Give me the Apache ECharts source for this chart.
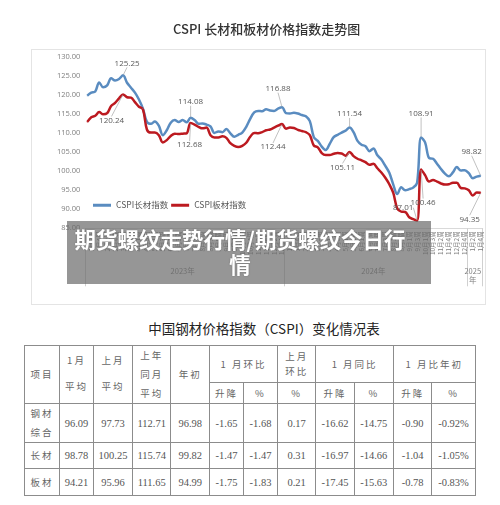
<!DOCTYPE html>
<html><head><meta charset="utf-8">
<script src="https://cdn.jsdelivr.net/npm/echarts@6/dist/echarts.min.js"></script>
<style>
html,body{margin:0;padding:0;background:#fff;}
#wrap{position:relative;width:500px;height:505px;overflow:hidden;font-family:"Noto Sans CJK SC",sans-serif;}
#frame{position:absolute;left:31px;top:49px;width:453px;height:254px;border:1px solid #e4e4e4;}
#chart{position:absolute;left:0;top:0;width:500px;height:310px;}
#banner{position:absolute;left:67px;top:221px;width:364px;height:63px;background:rgba(105,105,105,0.7);}
#banner div{position:absolute;left:5px;top:5px;width:336px;text-align:center;color:#fff;font-weight:700;font-size:21.5px;line-height:25px;text-shadow:0 0 2px rgba(0,0,0,0.25);}
#ttitle{position:absolute;left:0;top:318px;width:528px;text-align:center;font-size:13.5px;color:#222;}
#tbl{position:absolute;left:24px;top:345px;border-collapse:collapse;table-layout:fixed;}
#tbl td{border:1px solid #8c8c8c;padding:0;text-align:center;vertical-align:middle;color:#666;font-size:9.5px;letter-spacing:2px;line-height:19px;}
#tbl td.n{font-family:"Liberation Serif",serif;font-size:10.5px;letter-spacing:0;color:#555;}
</style></head>
<body><div id="wrap">
<div id="frame"></div>
<div id="chart"></div>
<div id="banner"><div>期货螺纹走势行情/期货螺纹今日行情</div></div>
<div id="ttitle">中国钢材价格指数（CSPI）变化情况表</div>
<table id="tbl"></table>
</div>
<script>
// ---- data ----
const years = ['2023', '2024', '2025'];
const weeksPerMonth2023 = [4,4,5,4,4,4,4,5,4,4,4,4];
const weeksPerMonth2024 = [4,3,4,4,4,4,4,4,4,3,4,4];
const weeksPerMonth2025 = [4];
const seriesNames = ['CSPI长材指数', 'CSPI板材指数'];
const changcai = [119.9,120.7,121.0,123.4,122.1,122.6,124.5,123.9,124.3,125.25,
123.3,122.0,120.7,118.9,116.5,113.0,112.5,113.1,112.0,109.5,
110.8,112.8,113.5,113.0,113.5,112.9,114.08,113.5,112.5,112.6,
112.3,111.8,110.1,110.5,110.3,111.1,110.0,109.1,109.6,110.2,
111.7,113.8,115.5,115.9,115.8,116.3,116.0,115.9,116.5,116.88,
115.3,115.2,115.4,115.2,114.8,114.5,113.2,109.0,108.0,106.5,
105.6,107.2,109.0,109.6,110.2,110.7,111.54,110.3,108.0,107.0,
106.6,105.3,106.0,104.2,103.1,101.4,99.6,96.5,94.0,95.8,
95.0,95.3,95.7,97.0,108.91,107.6,103.5,103.3,102.0,100.6,
99.4,98.7,99.7,101.1,100.2,100.3,99.5,98.2,98.6,98.82];
const bancai = [113.0,114.2,114.6,115.6,115.0,115.3,117.2,118.0,119.2,120.24,
119.5,119.4,118.2,117.0,116.3,111.0,110.2,110.2,109.5,107.6,
108.2,109.3,109.9,109.8,109.9,110.0,112.68,112.3,111.7,111.3,
111.5,109.5,108.9,108.9,109.2,108.8,107.4,106.7,106.4,106.7,
107.5,109.1,110.1,110.0,110.3,110.8,111.0,111.5,112.0,112.44,
111.2,111.5,111.4,110.9,110.6,110.3,109.5,106.8,106.3,104.8,
104.3,104.3,104.6,104.8,104.7,104.1,105.11,104.0,103.3,102.9,
102.4,101.7,102.0,100.8,99.7,98.3,96.6,94.3,90.2,89.4,
89.3,87.9,87.4,87.01,100.46,99.0,97.3,97.7,97.3,96.8,
96.5,96.6,97.0,97.0,95.6,95.5,95.0,93.6,94.4,94.35];
const yTicks = [85, 130, 5];

const tableTitle = '中国钢材价格指数（CSPI）变化情况表';
const rowNames = ['钢材<br>综合', '长材', '板材'];
const rowSteel = ['96.09','97.73','112.71','96.98','-1.65','-1.68','0.17','-16.62','-14.75','-0.90','-0.92%'];
const rowLong  = ['98.78','100.25','115.74','99.82','-1.47','-1.47','0.31','-16.97','-14.66','-1.04','-1.05%'];
const rowPlate = ['94.21','95.96','111.65','94.99','-1.75','-1.83','0.21','-17.45','-15.63','-0.78','-0.83%'];

// ---- categories ----
const categories = [], yearOfPoint = [];
[[years[0], weeksPerMonth2023],[years[1], weeksPerMonth2024],[years[2], weeksPerMonth2025]].forEach(([y, wpm]) => {
  wpm.forEach((n, m) => { for (let w = 1; w <= n; w++) { categories.push((m+1) + '月' + w + '周'); yearOfPoint.push(y + '年'); } });
});
const yearStart = yearOfPoint.map((y,i)=> i===0 || y!==yearOfPoint[i-1]);
const yearMid = {};
years.forEach(y => { const idx = yearOfPoint.map((v,i)=>v===y+'年'?i:-1).filter(i=>i>=0); yearMid[Math.floor((idx[0]+idx[idx.length-1])/2)] = true; });

// label offsets (style)
const blueOff = {9:[4,-12], 26:[0,-16], 49:[-4,-18.5], 66:[0,-13.5], 84:[0,-24], 99:[-9,-24]};
const redOff = {9:[-11.5,26], 26:[-1,22], 49:[-9,23], 66:[-7,15.5], 83:[-14,-13], 84:[2,33], 99:[-11,26.5]};
function mk(vals, offs){ return vals.map((v,i)=> offs[i] ? {value:v, label:{show:true}, labelLine:{show:true}} : v); }

const labelStyle = {show:false, position:'inside', fontSize:8, color:'#595959', fontFamily:'Open Sans'};
function lineSeries(name, vals, offs, color){
  return {name, type:'line', data: mk(vals, offs), smooth:0.35, showSymbol:true, showAllSymbol:true,
    symbol:'circle', symbolSize:1, lineStyle:{width:2.5,color}, itemStyle:{color},
    label: labelStyle, labelLine:{show:false, lineStyle:{color:'#a6a6a6', width:0.7}},
    labelLayout: p => { const o = offs[p.dataIndex]; return o ? {dx:o[0], dy:o[1]} : {}; },
    emphasis:{disabled:true}};
}

const chart = echarts.init(document.getElementById('chart'));
chart.setOption({
  animation:false,
  title:{text:'CSPI 长材和板材价格指数走势图', left:168, top:18, textStyle:{fontSize:13, fontWeight:500, color:'#333', fontFamily:'Noto Sans CJK SC'}},
  legend:{left:88, top:196, icon:'rect', itemWidth:18, itemHeight:3, itemGap:3, data:seriesNames,
    textStyle:{fontSize:8.5, color:'#595959', fontFamily:'Noto Sans CJK SC'}},
  grid:{left:85.3, top:57.3, width:397.4, height:171},
  xAxis:[
    {type:'category', data:categories, boundaryGap:true, axisLine:{lineStyle:{color:'#d9d9d9'}}, axisTick:{show:false},
     axisLabel:{rotate:90, interval:(i)=>i%2===1, fontSize:6.5, color:'#7f7f7f', margin:3, fontFamily:'Noto Sans CJK SC'}},
    {type:'category', data:yearOfPoint, position:'bottom', boundaryGap:true, axisLine:{show:false},
     axisTick:{show:true, interval:(i)=> yearStart[i] || i>=categories.length, length:58, lineStyle:{color:'#d0d0d0'}},
     axisLabel:{interval:(i)=> !!yearMid[i], margin:38, fontSize:7.5, color:'#7f7f7f', lineHeight:9, fontFamily:'Noto Sans CJK SC',
       formatter:v=> v===years[2]+'年' ? years[2]+'\n年' : v}}
  ],
  yAxis:{type:'value', min:yTicks[0], max:yTicks[1], interval:yTicks[2], splitLine:{show:false}, axisLine:{show:false}, axisTick:{show:false},
    axisLabel:{formatter:v=>v.toFixed(2), fontSize:7.5, color:'#7f7f7f', margin:5, fontFamily:'Open Sans'}},
  series:[lineSeries(seriesNames[0], changcai, blueOff, '#5a8cc0'), lineSeries(seriesNames[1], bancai, redOff, '#bc1a20')]
});

// ---- table ----
const colW = [35,34,39,38.4,38.6,34,34,38.4,38.3,39.3,38.4,43.3];
let html = '<colgroup>' + colW.map(w=>'<col style="width:'+w+'px">').join('') + '</colgroup>';
html += '<tr style="height:36px"><td rowspan="2">项目</td><td rowspan="2" style="line-height:26px;padding-bottom:4px">1月<br>平均</td><td rowspan="2" style="line-height:26px;padding-bottom:4px">上月<br>平均</td>'
  + '<td rowspan="2">上年<br>同月<br>平均</td><td rowspan="2">年初</td><td colspan="2">1 月环比</td><td style="line-height:15px">上月<br>环比</td>'
  + '<td colspan="2">1 月同比</td><td colspan="2">1 月比年初</td></tr>';
html += '<tr style="height:18px"><td>升降</td><td>%</td><td>%</td><td>升降</td><td>%</td><td>升降</td><td>%</td></tr>';
[[rowNames[0], rowSteel, 36],[rowNames[1], rowLong, 26],[rowNames[2], rowPlate, 27]].forEach(([n, r, h]) => {
  html += '<tr style="height:'+h+'px"><td>'+n+'</td>' + r.map(v=>'<td class="n">'+v+'</td>').join('') + '</tr>';
});
document.getElementById('tbl').innerHTML = html;
document.getElementById('ttitle').textContent = tableTitle;
</script>
</body></html>
